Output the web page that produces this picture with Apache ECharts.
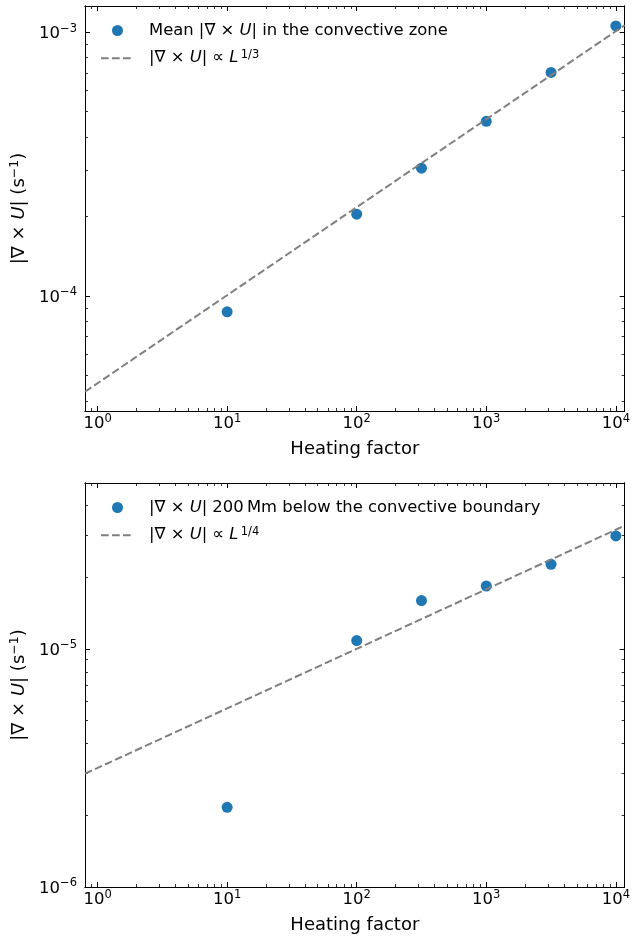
<!DOCTYPE html>
<html>
<head>
<meta charset="utf-8">
<script src="https://cdn.jsdelivr.net/npm/echarts@6/dist/echarts.min.js"></script>
<style>
html,body{margin:0;padding:0;background:#fff;}
#chart{width:633px;height:937px;}
</style>
</head>
<body>
<div id="chart"></div>
<script>
// ---------- data ----------
const heatingFactor = [10, 100, 316.2, 1000, 3162, 10000];
const curlConvZone = [8.70e-5, 2.04e-4, 3.05e-4, 4.59e-4, 7.03e-4, 1.055e-3];
const curlBelow = [2.16e-6, 1.083e-5, 1.594e-5, 1.836e-5, 2.263e-5, 2.98e-5];
// dashed power-law guide lines (end points)
const guideX = [0.8, 11700];
const guideTopY = [4.33e-5, 1.062e-3];
const guideBottomY = [2.99e-6, 3.29e-5];
// axes
const xRange = [0.8, 11700];
const yTopRange = [3.66e-5, 1.256e-3];
const yBottomRange = [1e-6, 4.97e-5];
const xMajor = [1, 10, 100, 1000, 10000];
const xMinor = [0.9, 2,3,4,5,6,7,8,9, 20,30,40,50,60,70,80,90, 200,300,400,500,600,700,800,900, 2000,3000,4000,5000,6000,7000,8000,9000];
const yTopMajor = [1e-4, 1e-3];
const yTopMinor = [4e-5,5e-5,6e-5,7e-5,8e-5,9e-5, 2e-4,3e-4,4e-4,5e-4,6e-4,7e-4,8e-4,9e-4];
const yBottomMajor = [1e-6, 1e-5];
const yBottomMinor = [2e-6,3e-6,4e-6,5e-6,6e-6,7e-6,8e-6,9e-6, 2e-5,3e-5,4e-5];
const names = {
  s1: 'Mean |∇ × U| in the convective zone',
  l1: '|∇ × U| ∝ L^(1/3)',
  s2: '|∇ × U| 200 Mm below the convective boundary',
  l2: '|∇ × U| ∝ L^(1/4)'
};
const xLabel = 'Heating factor';

// ---------- styles ----------
const F = 'DejaVu Sans';
const tickRich = {
  b: {fontFamily: F, fontSize: 16.5, lineHeight: 22, color: '#000'},
  s: {fontFamily: F, fontSize: 11.5, lineHeight: 10, verticalAlign: 'top', color: '#000'}
};
const nameRich = {
  n: {fontFamily: F, fontSize: 18, lineHeight: 22, color: '#000'},
  i: {fontFamily: F, fontSize: 18, lineHeight: 22, fontStyle: 'italic', color: '#000'},
  s: {fontFamily: F, fontSize: 12.5, lineHeight: 10, verticalAlign: 'top', color: '#000'}
};
const legRich = {
  sp: {width: 10},
  n: {fontFamily: F, fontSize: 16.4, lineHeight: 18, color: '#000'},
  i: {fontFamily: F, fontSize: 16.4, lineHeight: 18, fontStyle: 'italic', color: '#000'},
  s: {fontFamily: F, fontSize: 11.5, lineHeight: 8, verticalAlign: 'top', color: '#000'}
};
const legFmt = {};
legFmt[names.s1] = '{sp|}{n|Mean |∇ × }{i|U}{n|| in the convective zone}';
legFmt[names.l1] = '{sp|}{n||∇ × }{i|U}{n|| ∝ }{i|L}{s|\u20091/3}';
legFmt[names.s2] = '{sp|}{n||∇ × }{i|U}{n|| 200\u2009Mm below the convective boundary}';
legFmt[names.l2] = '{sp|}{n||∇ × }{i|U}{n|| ∝ }{i|L}{s|\u20091/4}';

function powLabel(v) {
  const e = Math.round(Math.log10(v));
  const sup = e < 0 ? '\u2212' + (-e) : String(e);
  return '{b|10}{s|' + sup + '}';
}

function xAxes(g) {
  const common = {type: 'log', logBase: 10, gridIndex: g, min: xRange[0], max: xRange[1],
    splitLine: {show: false}, axisLine: {show: true, lineStyle: {color: '#000', width: 1}}};
  return [
    Object.assign({}, common, {position: 'bottom',
      name: xLabel, nameLocation: 'middle', nameGap: 28,
      nameTextStyle: {fontFamily: F, fontSize: 18, lineHeight: 20, color: '#000'},
      axisTick: {inside: true, length: 5, lineStyle: {color: '#000', width: 1}, customValues: xMajor},
      axisLabel: {show: true, margin: 2, customValues: xMajor, formatter: powLabel, rich: tickRich}}),
    Object.assign({}, common, {position: 'bottom',
      axisTick: {inside: true, length: 3, lineStyle: {color: '#000', width: 0.8}, customValues: xMinor},
      axisLabel: {show: false}}),
    Object.assign({}, common, {position: 'top',
      axisTick: {inside: true, length: 5, lineStyle: {color: '#000', width: 1}, customValues: xMajor},
      axisLabel: {show: false}}),
    Object.assign({}, common, {position: 'top',
      axisTick: {inside: true, length: 3, lineStyle: {color: '#000', width: 0.8}, customValues: xMinor},
      axisLabel: {show: false}})
  ];
}
function yAxes(g, range, major, minor) {
  const common = {type: 'log', logBase: 10, gridIndex: g, min: range[0], max: range[1],
    splitLine: {show: false}, axisLine: {show: true, lineStyle: {color: '#000', width: 1}}};
  return [
    Object.assign({}, common, {position: 'left',
      name: '{n||∇ × }{i|U}{n|| (s}{s|\u22121}{n|)}', nameLocation: 'middle', nameGap: 55,
      nameTextStyle: {rich: nameRich},
      axisTick: {inside: true, length: 5, lineStyle: {color: '#000', width: 1}, customValues: major},
      axisLabel: {show: true, margin: 8, padding: [3, 0, 0, 0], customValues: major, formatter: powLabel, rich: tickRich}}),
    Object.assign({}, common, {position: 'left',
      axisTick: {inside: true, length: 3, lineStyle: {color: '#000', width: 0.8}, customValues: minor},
      axisLabel: {show: false}}),
    Object.assign({}, common, {position: 'right',
      axisTick: {inside: true, length: 5, lineStyle: {color: '#000', width: 1}, customValues: major},
      axisLabel: {show: false}}),
    Object.assign({}, common, {position: 'right',
      axisTick: {inside: true, length: 3, lineStyle: {color: '#000', width: 0.8}, customValues: minor},
      axisLabel: {show: false}})
  ];
}

const zip = (a, b) => a.map((v, i) => [v, b[i]]);
const lineStyle = {color: '#808080', width: 2, type: [7.7, 3.3]};
const hiddenSymbol = {color: 'rgba(0,0,0,0)', borderWidth: 0, opacity: 0};

const option = {
  animation: false,
  backgroundColor: '#fff',
  grid: [
    {left: 85, right: 6, top: 6, height: 405},
    {left: 85, right: 6, top: 483, height: 404}
  ],
  xAxis: xAxes(0).concat(xAxes(1)),
  yAxis: yAxes(0, yTopRange, yTopMajor, yTopMinor).concat(yAxes(1, yBottomRange, yBottomMajor, yBottomMinor)),
  legend: [
    {data: [names.s1, {name: names.l1, itemStyle: hiddenSymbol}], orient: 'vertical', left: 100, top: 22.5, padding: 0, itemGap: 10.7,
      itemWidth: 33, itemHeight: 11, formatter: n => legFmt[n], textStyle: {rich: legRich}},
    {data: [names.s2, {name: names.l2, itemStyle: hiddenSymbol}], orient: 'vertical', left: 100, top: 499.5, padding: 0, itemGap: 10.7,
      itemWidth: 33, itemHeight: 11, formatter: n => legFmt[n], textStyle: {rich: legRich}}
  ],
  series: [
    {name: names.s1, type: 'scatter', xAxisIndex: 0, yAxisIndex: 0, symbol: 'circle', symbolSize: 11,
      itemStyle: {color: '#1f77b4', opacity: 1}, data: zip(heatingFactor, curlConvZone)},
    {name: names.l1, type: 'line', xAxisIndex: 0, yAxisIndex: 0, symbol: 'none', lineStyle: lineStyle,
      itemStyle: {color: '#808080'}, data: zip(guideX, guideTopY)},
    {name: names.s2, type: 'scatter', xAxisIndex: 4, yAxisIndex: 4, symbol: 'circle', symbolSize: 11,
      itemStyle: {color: '#1f77b4', opacity: 1}, data: zip(heatingFactor, curlBelow)},
    {name: names.l2, type: 'line', xAxisIndex: 4, yAxisIndex: 4, symbol: 'none', lineStyle: lineStyle,
      itemStyle: {color: '#808080'}, data: zip(guideX, guideBottomY)}
  ]
};
const chart = echarts.init(document.getElementById('chart'), null, {renderer: 'canvas'});
chart.setOption(option);
</script>
</body>
</html>
